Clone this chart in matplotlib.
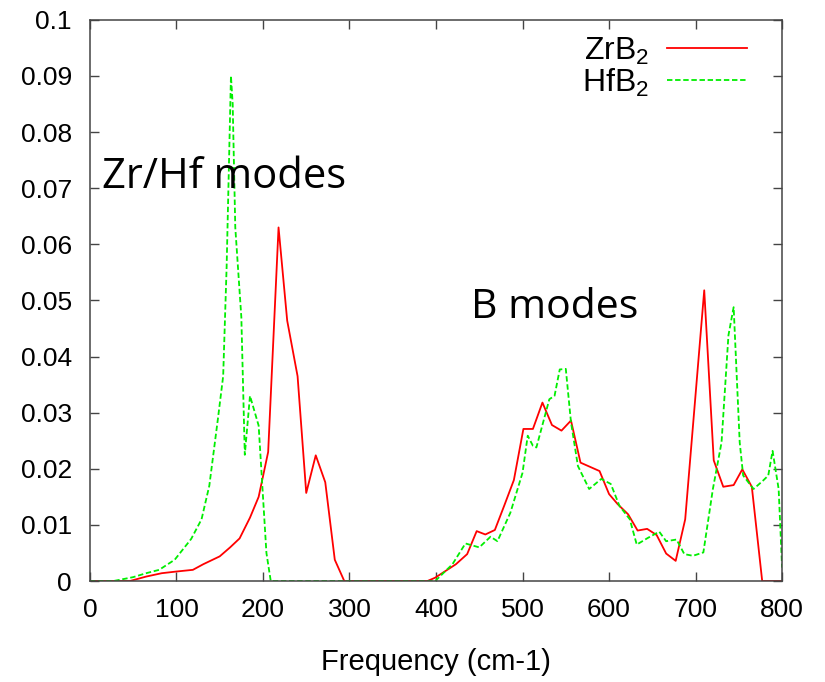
import numpy as np
import matplotlib
matplotlib.use("Agg")
import matplotlib.pyplot as plt

# -----------------------
# Phonon DOS values
# -----------------------

zrb2_freq = [0, 46, 65, 83, 100, 119, 131, 150, 162, 173, 185, 195, 206, 218, 228,
             240, 250, 261, 272, 283, 294, 390, 399, 423, 436, 447, 457, 468, 479,
             490, 501, 512, 523, 534, 545, 556, 567, 589, 600, 610, 622, 633, 644,
             655, 666, 677, 688, 710, 721, 732, 744, 754, 765, 777, 800]
zrb2_dos = [0, 0, 0.0008, 0.0014, 0.0017, 0.002, 0.003, 0.0044, 0.006, 0.0076,
            0.0113, 0.015, 0.023, 0.063, 0.0464, 0.0365, 0.0157, 0.0224, 0.0176,
            0.0038, 0, 0, 0.0006, 0.003, 0.0048, 0.0089, 0.0083, 0.0091, 0.0135,
            0.018, 0.0271, 0.0271, 0.0318, 0.0278, 0.0268, 0.0286, 0.0211, 0.0196,
            0.0155, 0.0137, 0.0119, 0.009, 0.0093, 0.0082, 0.0049, 0.0036, 0.011,
            0.0518, 0.0215, 0.0168, 0.0171, 0.0199, 0.0168, 0, 0]

hfb2_freq = [0, 27, 50, 65, 80, 98, 117, 129, 138, 148, 154, 158, 163, 165, 168,
             175, 179, 185, 195, 204, 209, 399, 419, 434, 450, 463, 471, 486, 500,
             506, 512, 516, 531, 537, 543, 550, 556, 564, 577, 591, 602, 612, 624,
             632, 645, 658, 666, 678, 687, 697, 709, 720, 730, 738, 744, 751, 755,
             767, 778, 784, 789, 796, 800]
hfb2_dos = [0, 0, 0.0007, 0.0014, 0.002, 0.0038, 0.0075, 0.011, 0.017, 0.029,
            0.0365, 0.056, 0.09, 0.085, 0.063, 0.047, 0.0225, 0.033, 0.0277, 0.005,
            0, 0, 0.003, 0.0067, 0.006, 0.0079, 0.0071, 0.0122, 0.0193, 0.0259,
            0.0241, 0.0238, 0.0324, 0.033, 0.0377, 0.0378, 0.0283, 0.0205, 0.0164,
            0.0182, 0.0173, 0.0134, 0.011, 0.0065, 0.0077, 0.0088, 0.0071, 0.0074,
            0.0048, 0.0045, 0.0051, 0.0164, 0.0247, 0.0438, 0.0488, 0.0247, 0.0188,
            0.0164, 0.0179, 0.0188, 0.0232, 0.0164, 0.0024]

x_ticks = [0, 100, 200, 300, 400, 500, 600, 700, 800]
y_ticks = [0, 0.01, 0.02, 0.03, 0.04, 0.05, 0.06, 0.07, 0.08, 0.09, 0.1]
y_tick_labels = ["0", "0.01", "0.02", "0.03", "0.04", "0.05", "0.06", "0.07",
                 "0.08", "0.09", "0.1"]

# -----------------------
# Plot
# -----------------------

plt.rcParams['font.family'] = ['Liberation Sans', 'DejaVu Sans']
plt.rcParams['mathtext.default'] = 'regular'

fig = plt.figure(figsize=(8.25, 6.82), dpi=100)
ax = fig.add_axes([0.109, 0.148, 0.839, 0.823])

ax.plot(zrb2_freq, zrb2_dos, color='#ff0000', lw=1.3, label='ZrB$_2$')
ax.plot(hfb2_freq, hfb2_dos, color='#00ee00', lw=1.3, dashes=(3, 1.5),
        label='HfB$_2$')

ax.set_xlim(0, 800)
ax.set_ylim(0, 0.1)
ax.set_xticks(x_ticks)
ax.set_yticks(y_ticks)
ax.set_yticklabels(y_tick_labels)
ax.tick_params(direction='in', length=6.3, width=1, top=True, right=True,
               labelsize=19, colors='#444444', labelcolor='black')
ax.tick_params(axis='x', pad=12)
ax.tick_params(axis='y', pad=13)
for s in ax.spines.values():
    s.set_color('#444444')
    s.set_linewidth(1.1)

ax.set_xlabel('Frequency (cm-1)', fontsize=21, labelpad=19)

ax.legend(loc='upper right', bbox_to_anchor=(0.949, 0.972), frameon=False,
          markerfirst=False, fontsize=23, handlelength=2.5, handletextpad=0.55,
          borderpad=0, borderaxespad=0, labelspacing=0.0)

# annotations (pasted on in the original slide)
ax.text(13.5, 0.070, 'Zr/Hf modes', fontsize=30, family='Open Sans')
ax.text(440, 0.0468, 'B modes', fontsize=29.5, family='Open Sans')

fig.savefig('out.png', dpi=100)
